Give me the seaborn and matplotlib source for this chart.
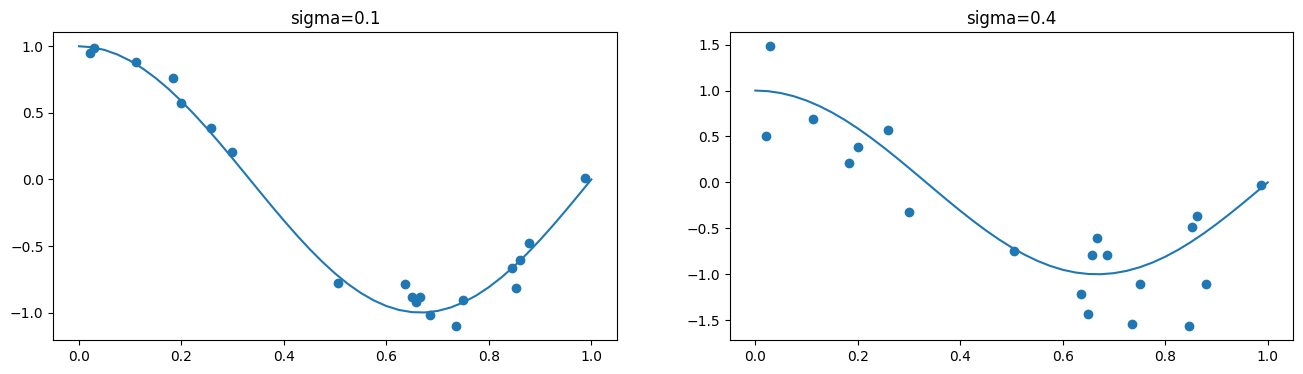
import matplotlib
matplotlib.use("Agg")
import matplotlib.pyplot as plt
import seaborn as sns

x_points = [0.021, 0.029, 0.112, 0.183, 0.200, 0.258, 0.299, 0.505, 0.636, 0.650,
            0.657, 0.666, 0.686, 0.736, 0.750, 0.846, 0.853, 0.861, 0.879, 0.987]
y_sigma01 = [0.947, 0.987, 0.880, 0.759, 0.571, 0.383, 0.203, -0.779, -0.782, -0.885,
             -0.917, -0.885, -1.020, -1.103, -0.907, -0.662, -0.817, -0.602, -0.474, 0.008]
y_sigma04 = [0.501, 1.482, 0.687, 0.207, 0.381, 0.567, -0.327, -0.745, -1.210, -1.435,
             -0.785, -0.610, -0.795, -1.544, -1.101, -1.566, -0.490, -0.370, -1.101, -0.033]

curve_x = [i * 0.025 for i in range(41)]
curve_y = [1.0, 0.9931, 0.9724, 0.9382, 0.8910, 0.8315, 0.7604, 0.6788, 0.5878, 0.4886,
           0.3827, 0.2714, 0.1564, 0.0393, -0.0785, -0.1951, -0.3090, -0.4187, -0.5225, -0.6191,
           -0.7071, -0.7853, -0.8526, -0.9081, -0.9511, -0.9808, -0.9969, -0.9992, -0.9877, -0.9625,
           -0.9239, -0.8725, -0.8090, -0.7343, -0.6494, -0.5556, -0.4540, -0.3461, -0.2334, -0.1175,
           0.0]

titles = ["sigma=0.1", "sigma=0.4"]
series = [y_sigma01, y_sigma04]

fig, axes = plt.subplots(1, 2, figsize=(16, 4), dpi=100)
for ax, title, ys in zip(axes, titles, series):
    sns.lineplot(x=curve_x, y=curve_y, ax=ax, color="#1f77b4", linewidth=1.5)
    sns.scatterplot(x=x_points, y=ys, ax=ax, color="#1f77b4", s=36, linewidth=1.0,
                    edgecolor="#1f77b4", alpha=1)
    ax.set_title(title)

fig.savefig("out.png", dpi=100, bbox_inches="tight")
